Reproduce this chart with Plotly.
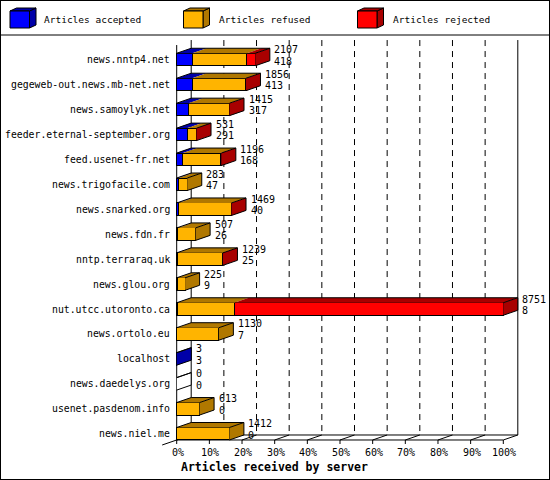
import plotly.graph_objects as go

servers = ["news.nntp4.net", "gegeweb-out.news.mb-net.net", "news.samoylyk.net",
           "feeder.eternal-september.org", "feed.usenet-fr.net", "news.trigofacile.com",
           "news.snarked.org", "news.fdn.fr", "nntp.terraraq.uk", "news.glou.org",
           "nut.utcc.utoronto.ca", "news.ortolo.eu", "localhost", "news.daedelys.org",
           "usenet.pasdenom.info", "news.niel.me"]
offered = [2107, 1856, 1415, 531, 1196, 283, 1469, 507, 1239, 225, 8751, 1130, 3, 0, 613, 1412]
accepted = [418, 413, 317, 291, 168, 47, 40, 26, 25, 9, 8, 7, 3, 0, 0, 0]
rejected = [225, 14, 9, 6, 20, 0, 8, 0, 10, 0, 7208, 0, 0, 0, 0, 0]
refused = [o - a - r for o, a, r in zip(offered, accepted, rejected)]
ticks = [0, 10, 20, 30, 40, 50, 60, 70, 80, 90, 100]

W, H = 550, 480
# pixel geometry of the drawing
SX = 3.266          # px per percent
SY = 24.95          # px per row
X0PX, Y0PX = 176.7, 59.5
xr = [-X0PX / SX, -X0PX / SX + W / SX]
yr = [-Y0PX / SY + H / SY, -Y0PX / SY]
DX = 14.5 / SX      # depth in x units
DY = 5 / SY         # depth in row units
HALF = 0.25

FONT = "DejaVu Sans Mono"
front = {"acc": "#0000FF", "ref": "#FFB400", "rej": "#FF0000"}
dark = {"acc": "#0000A8", "ref": "#B07800", "rej": "#A80000"}

maxv = max(offered)
pct = lambda v: v / maxv * 100
rows = list(range(len(servers)))

def fx(p):
    return p / W

def fy(p):
    return 1 - p / H

fig = go.Figure()

# front faces
for key, name, vals in [("acc", "Articles accepted", accepted),
                        ("ref", "Articles refused", refused),
                        ("rej", "Articles rejected", rejected)]:
    fig.add_trace(go.Bar(y=rows, x=[pct(v) for v in vals], orientation="h", width=2 * HALF,
                         marker=dict(color=front[key], line=dict(color="black", width=1)),
                         name=name, hoverinfo="skip", showlegend=False))

# top and side faces
tops = {k: ([], []) for k in front}
sides = {k: ([], []) for k in list(front) + ["none"]}
ox, oy = [], []
for i in rows:
    yt, yb = i - HALF, i + HALF
    segs = []
    start = 0
    for key, vals in [("acc", accepted), ("ref", refused), ("rej", rejected)]:
        w = pct(vals[i])
        if w > 0:
            segs.append((start, start + w, key))
        start += w
    for a, b, key in segs:
        tx, ty = tops[key]
        tx += [a, b, b + DX, a + DX, a, None]
        ty += [yt, yt, yt - DY, yt - DY, yt, None]
    xe = pct(offered[i])
    last = segs[-1][2] if segs else "none"
    sx, sy = sides[last]
    sx += [xe, xe + DX, xe + DX, xe, xe, None]
    sy += [yt, yt - DY, yb - DY, yb, yt, None]
    ox += [0, DX, xe + DX, xe + DX, xe, None, xe, xe + DX, None]
    oy += [yt, yt - DY, yt - DY, yb - DY, yb, None, yt, yt - DY, None]

for key, (tx, ty) in tops.items():
    fig.add_trace(go.Scatter(x=tx, y=ty, fill="toself", fillcolor=dark[key], mode="lines",
                             line=dict(width=0), hoverinfo="skip", showlegend=False))
for key, (sx, sy) in sides.items():
    fig.add_trace(go.Scatter(x=sx, y=sy, fill="toself", fillcolor=dark.get(key, "white"),
                             mode="lines", line=dict(width=0), hoverinfo="skip", showlegend=False))
fig.add_trace(go.Scatter(x=ox, y=oy, mode="lines", line=dict(color="black", width=1),
                         hoverinfo="skip", showlegend=False))

shapes = []
top_back = -0.78
floor_front = len(servers) - 1 + HALF
floor_back = floor_front - DY
# walls and back grid
shapes.append(dict(type="line", xref="x", yref="y", x0=0, x1=0, y0=top_back + DY, y1=floor_front,
                   line=dict(color="black", width=1), layer="below"))
for t in ticks:
    dash = "solid" if t in (0, 100) else "6px,5px"
    shapes.append(dict(type="line", xref="x", yref="y", x0=t + DX, x1=t + DX, y0=top_back, y1=floor_back,
                       line=dict(color="black", width=1, dash=dash), layer="below"))
    shapes.append(dict(type="line", xref="x", yref="y", x0=t, x1=t + DX, y0=floor_front, y1=floor_back,
                       line=dict(color="black", width=1), layer="below"))
    shapes.append(dict(type="line", xref="x", yref="y", x0=t, x1=t, y0=floor_front, y1=floor_front + 4 / SY,
                       line=dict(color="black", width=1), layer="below"))
shapes.append(dict(type="line", xref="x", yref="y", x0=0, x1=100, y0=floor_front, y1=floor_front,
                   line=dict(color="black", width=1), layer="below"))
shapes.append(dict(type="line", xref="x", yref="y", x0=DX, x1=100 + DX, y0=floor_back, y1=floor_back,
                   line=dict(color="black", width=1), layer="below"))
shapes.append(dict(type="line", xref="x", yref="y", x0=-DX, x1=DX, y0=floor_front + DY, y1=floor_back,
                   line=dict(color="black", width=1), layer="below"))

# frame and legend
shapes.append(dict(type="rect", xref="paper", yref="paper", x0=0, x1=1, y0=0, y1=1,
                   line=dict(color="black", width=2)))
shapes.append(dict(type="line", xref="paper", yref="paper", x0=0, x1=1, y0=fy(35), y1=fy(35),
                   line=dict(color="black", width=1)))

annotations = []
legend_items = [("acc", "Articles accepted", 10, 42), ("ref", "Articles refused", 183.5, 216.5),
                ("rej", "Articles rejected", 357.5, 390.5)]
for key, label, lx, tx in legend_items:
    fw, fh, ddx, ddy, ly = 19.5, 17, 6.5, 3, 11
    shapes.append(dict(type="path", xref="paper", yref="paper",
                       path=f"M{fx(lx + fw)},{fy(ly)} L{fx(lx + fw + ddx)},{fy(ly - ddy)} "
                            f"L{fx(lx + fw + ddx)},{fy(ly + fh - ddy)} L{fx(lx + fw)},{fy(ly + fh)} Z",
                       fillcolor=dark[key], line=dict(color="black", width=1)))
    shapes.append(dict(type="path", xref="paper", yref="paper",
                       path=f"M{fx(lx)},{fy(ly)} L{fx(lx + ddx)},{fy(ly - ddy)} "
                            f"L{fx(lx + fw + ddx)},{fy(ly - ddy)} L{fx(lx + fw)},{fy(ly)} Z",
                       fillcolor=dark[key], line=dict(color="black", width=1)))
    shapes.append(dict(type="rect", xref="paper", yref="paper", x0=fx(lx), x1=fx(lx + fw),
                       y0=fy(ly + fh), y1=fy(ly), fillcolor=front[key], line=dict(color="black", width=1)))
    annotations.append(dict(xref="paper", yref="paper", x=fx(tx), y=fy(20), text=label, showarrow=False,
                            xanchor="left", yanchor="middle", font=dict(family=FONT, size=9.5, color="black")))

for i in rows:
    annotations.append(dict(xref="x", yref="y", x=0, y=i, xshift=-5, text=servers[i], showarrow=False,
                            xanchor="right", yanchor="middle", font=dict(family=FONT, size=9.8, color="black")))
    lx = pct(offered[i]) + DX + 2.5 / SX
    annotations.append(dict(xref="x", yref="y", x=lx, y=i - 0.4, text=str(offered[i]), showarrow=False,
                            xanchor="left", yanchor="middle", font=dict(family=FONT, size=10, color="black")))
    annotations.append(dict(xref="x", yref="y", x=lx, y=i + 0.06, text=str(accepted[i]), showarrow=False,
                            xanchor="left", yanchor="middle", font=dict(family=FONT, size=10, color="black")))

for t in ticks:
    annotations.append(dict(xref="x", yref="y", x=t, y=floor_front + 0.5, xshift=1, text=f"{t}%",
                            showarrow=False, xanchor="center", yanchor="middle",
                            font=dict(family=FONT, size=10, color="black")))
annotations.append(dict(xref="paper", yref="paper", x=fx(179), y=fy(467), text="<b>Articles received by server</b>",
                        showarrow=False, xanchor="left", yanchor="middle",
                        font=dict(family=FONT, size=11.5, color="black")))

fig.update_layout(width=W, height=H, margin=dict(l=0, r=0, t=0, b=0),
                  paper_bgcolor="white", plot_bgcolor="white", barmode="stack",
                  showlegend=False, shapes=shapes, annotations=annotations,
                  xaxis=dict(range=xr, visible=False, fixedrange=True),
                  yaxis=dict(range=yr, visible=False, fixedrange=True))
# the page body has a default margin; drop it so the figure sits at the window's corner
fig.write_html("out.html", config={"displayModeBar": False},
               post_script="document.body.style.margin='0';")
